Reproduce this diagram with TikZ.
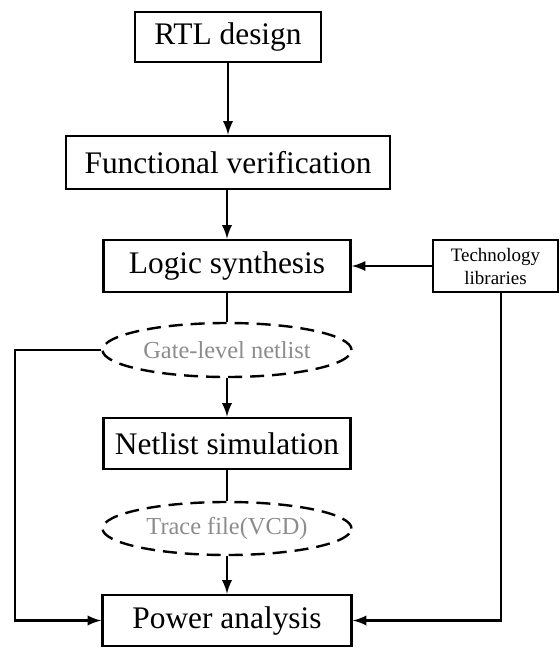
\documentclass[tikz,border=0pt]{standalone}
\usepackage{fontspec}
\setmainfont{Liberation Serif}
\usetikzlibrary{shapes.geometric}
\usetikzlibrary{positioning}
\usetikzlibrary{calc}

\tikzset{
	stage/.style = {draw, line width = 1.4pt, rectangle, inner sep = 0pt, font = \fontsize{15.7}{18}\selectfont},
	datafile/.style = {draw, line width = 1.2pt, ellipse, inner sep = 0pt, dash pattern = on 7pt off 4pt, text = black!45, font = \fontsize{12.2}{14}\selectfont},
	flow/.style = {line width = 1.3pt}
}

\begin{document}
\begin{tikzpicture}[x = 0.5pt, y = -0.5pt]
		\useasboundingbox (0, 0) rectangle (560, 648);

		\node (rtl) [stage, minimum width = 93pt, minimum height = 25pt] at (228, 37) {RTL design};
		\node (func) [stage, minimum width = 162pt, minimum height = 26.5pt] at (228, 162.5) {Functional verification};
		\node (logic) [stage, minimum width = 123.5pt, minimum height = 26pt] at (227, 266) {Logic synthesis};
		\node (tech) [stage, minimum width = 62.5pt, minimum height = 26pt, align = center, font = \fontsize{9.5}{11.5}\selectfont] at (495.5, 266) {Technology\\libraries};

		\node (gate) [datafile, minimum width = 124.5pt, minimum height = 27pt] at (227, 350) {Gate-level netlist};
		\node (netsim) [stage, minimum width = 123.5pt, minimum height = 25.5pt] at (227, 443.5) {Netlist simulation};
		\node (trace) [datafile, minimum width = 124.5pt, minimum height = 26.5pt] at (227, 528.5) {Trace file(VCD)};
		\node (power) [stage, minimum width = 124.5pt, minimum height = 25.5pt] at (227, 620.5) {Power analysis};

		\coordinate (lcorner) at (15, 620.5);
		\coordinate (rcorner) at (501, 620.5);

		\draw [flow, -latex] (rtl.south) -- (func.north);
		\draw [flow, -latex] (func.south -| logic.north) -- (logic.north);
		\draw [flow, -latex] (tech.west) -- (logic.east);
		\draw [flow] (logic.south) -- (gate.north);
		\draw [flow, -latex] (gate.south) -- (netsim.north);
		\draw [flow] (netsim.south) -- (trace.north);
		\draw [flow, -latex] (trace.south) -- (power.north);
		\draw [flow, -latex] (gate.west) -| (lcorner) -- (power.west);
		\draw [flow, -latex] (tech.south -| rcorner) -- (rcorner) -- (power.east);
	\end{tikzpicture}
\end{document}
